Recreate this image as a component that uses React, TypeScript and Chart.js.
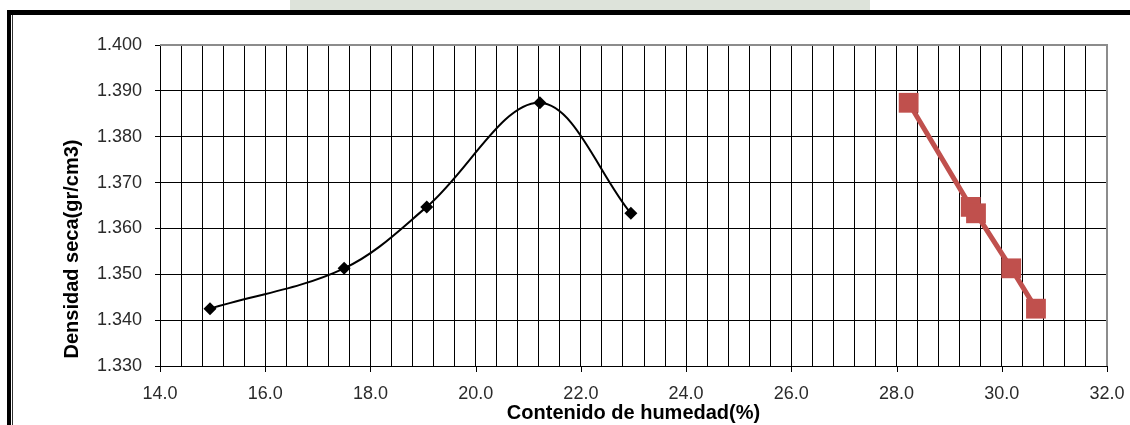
import React, { useEffect, useRef } from 'react';
import { Chart, registerables } from 'chart.js';

Chart.register(...registerables);

// ---- data ----
const humedadCompactacion = [14.95, 17.5, 19.07, 21.22, 22.95];
const densidadCompactacion = [1.3425, 1.3513, 1.3647, 1.3874, 1.3633];
const humedadSaturacion = [28.23, 29.41, 29.51, 30.18, 30.65];
const densidadSaturacion = [1.3874, 1.3647, 1.3633, 1.3513, 1.3425];

// ---- axis definition ----
const xMin = 14;
const xMax = 32;
const xMinorStep = 0.4;
const xMajorStep = 2;
const yMin = 1.33;
const yMax = 1.4;
const yStep = 0.01;
const xTitle = 'Contenido de humedad(%)';
const yTitle = 'Densidad seca(gr/cm3)';

const FONT = "'Liberation Sans', Arial, sans-serif";

function stepsBetween(min: number, max: number, step: number): number[] {
  const n = Math.round((max - min) / step);
  const out: number[] = [];
  for (let i = 0; i <= n; i++) out.push(+(min + i * step).toFixed(6));
  return out;
}
const xGrid = stepsBetween(xMin, xMax, xMinorStep);
const yGrid = stepsBetween(yMin, yMax, yStep);
const isMajorX = (v: number) => Math.abs(v / xMajorStep - Math.round(v / xMajorStep)) < 1e-6;

const framePlugin = {
  id: 'frame',
  beforeDraw(chart: any) {
    const ctx = chart.ctx;
    ctx.save();
    ctx.fillStyle = '#ffffff';
    ctx.fillRect(0, 0, chart.width, chart.height);
    // faint watermark band above the frame
    ctx.fillStyle = '#dde3da';
    ctx.fillRect(290, 0, 580, 10);
    ctx.restore();
  },
  afterDraw(chart: any) {
    const ctx = chart.ctx;
    const { left, right, top, bottom } = chart.chartArea;
    const xs = chart.scales.x;
    ctx.save();
    // grey top/right plot border
    ctx.strokeStyle = '#8c8c8c';
    ctx.lineWidth = 2;
    ctx.beginPath();
    ctx.moveTo(left, top);
    ctx.lineTo(right, top);
    ctx.lineTo(right, bottom);
    ctx.stroke();
    // major tick marks on x
    ctx.strokeStyle = '#000';
    ctx.lineWidth = 1;
    ctx.beginPath();
    xGrid.filter(isMajorX).forEach((v) => {
      const px = Math.round(xs.getPixelForValue(v)) + 0.5;
      ctx.moveTo(px, bottom);
      ctx.lineTo(px, bottom + 6);
    });
    ctx.stroke();
    // y axis title (placed low, as in the original)
    ctx.save();
    ctx.translate(72, 249);
    ctx.rotate(-Math.PI / 2);
    ctx.fillStyle = '#000';
    ctx.font = `bold 20px ${FONT}`;
    ctx.textAlign = 'center';
    ctx.textBaseline = 'middle';
    ctx.fillText(yTitle, 0, 0);
    ctx.restore();
    // outer frame
    ctx.fillStyle = '#000';
    ctx.fillRect(7, 10, chart.width - 7, 5);
    ctx.fillRect(7, 10, 4, chart.height - 10);
    ctx.fillStyle = '#333';
    ctx.fillRect(12, 15, 1, chart.height - 15);
    ctx.restore();
  },
};

export default function App() {
  const ref = useRef<HTMLCanvasElement | null>(null);

  useEffect(() => {
    if (!ref.current) return;
    const chart = new Chart(ref.current, {
      type: 'scatter',
      data: {
        datasets: [
          {
            label: 'Compactación',
            data: humedadCompactacion.map((x, i) => ({ x, y: densidadCompactacion[i] })),
            showLine: true,
            borderColor: '#000000',
            backgroundColor: '#000000',
            borderWidth: 2,
            tension: 0.35,
            pointStyle: 'rectRot',
            pointRadius: 6.5,
            pointBorderWidth: 0,
          },
          {
            label: 'Saturación',
            data: humedadSaturacion.map((x, i) => ({ x, y: densidadSaturacion[i] })),
            showLine: true,
            borderColor: '#C0504D',
            backgroundColor: '#C0504D',
            borderWidth: 5,
            tension: 0,
            pointStyle: 'rect',
            pointRadius: 14,
            pointBorderWidth: 0,
          },
        ],
      },
      options: {
        animation: false,
        responsive: false,
        devicePixelRatio: 1,
        layout: { padding: { left: 0, right: 23, top: 45, bottom: 0 } },
        plugins: { legend: { display: false }, tooltip: { enabled: false } },
        scales: {
          x: {
            type: 'linear',
            min: xMin,
            max: xMax,
            afterBuildTicks: (s: any) => {
              s.ticks = xGrid.map((v) => ({ value: v }));
            },
            afterFit: (s: any) => {
              s.height = 59;
              s.paddingLeft = 0;
              s.paddingRight = 0;
            },
            grid: { color: '#000', lineWidth: 1, drawTicks: false },
            border: { color: '#000', width: 1 },
            ticks: {
              autoSkip: false,
              maxRotation: 0,
              padding: 17,
              color: '#2a2a2a',
              font: { family: FONT, size: 18 },
              callback: (v: any) => (isMajorX(Number(v)) ? Number(v).toFixed(1) : ''),
            },
            title: {
              display: true,
              text: xTitle,
              color: '#000',
              font: { family: FONT, size: 20, weight: 'bold' },
              padding: { top: 0, bottom: 0 },
            },
          },
          y: {
            type: 'linear',
            min: yMin,
            max: yMax,
            afterBuildTicks: (s: any) => {
              s.ticks = yGrid.map((v) => ({ value: v }));
            },
            afterFit: (s: any) => {
              s.width = 160;
              s.paddingTop = 0;
              s.paddingBottom = 0;
            },
            grid: { color: '#000', lineWidth: 1, drawTicks: true, tickLength: 5, tickColor: '#000' },
            border: { color: '#000', width: 1 },
            ticks: {
              autoSkip: false,
              padding: 13,
              color: '#2a2a2a',
              font: { family: FONT, size: 18 },
              callback: (v: any) => Number(v).toFixed(3),
            },
            title: { display: false },
          },
        },
      },
      plugins: [framePlugin],
    });
    return () => chart.destroy();
  }, []);

  return (
    <div style={{ position: 'fixed', left: 0, top: 0, width: 1130, height: 425 }}>
      <canvas ref={ref} width={1130} height={425} style={{ display: 'block', width: 1130, height: 425 }} />
    </div>
  );
}
